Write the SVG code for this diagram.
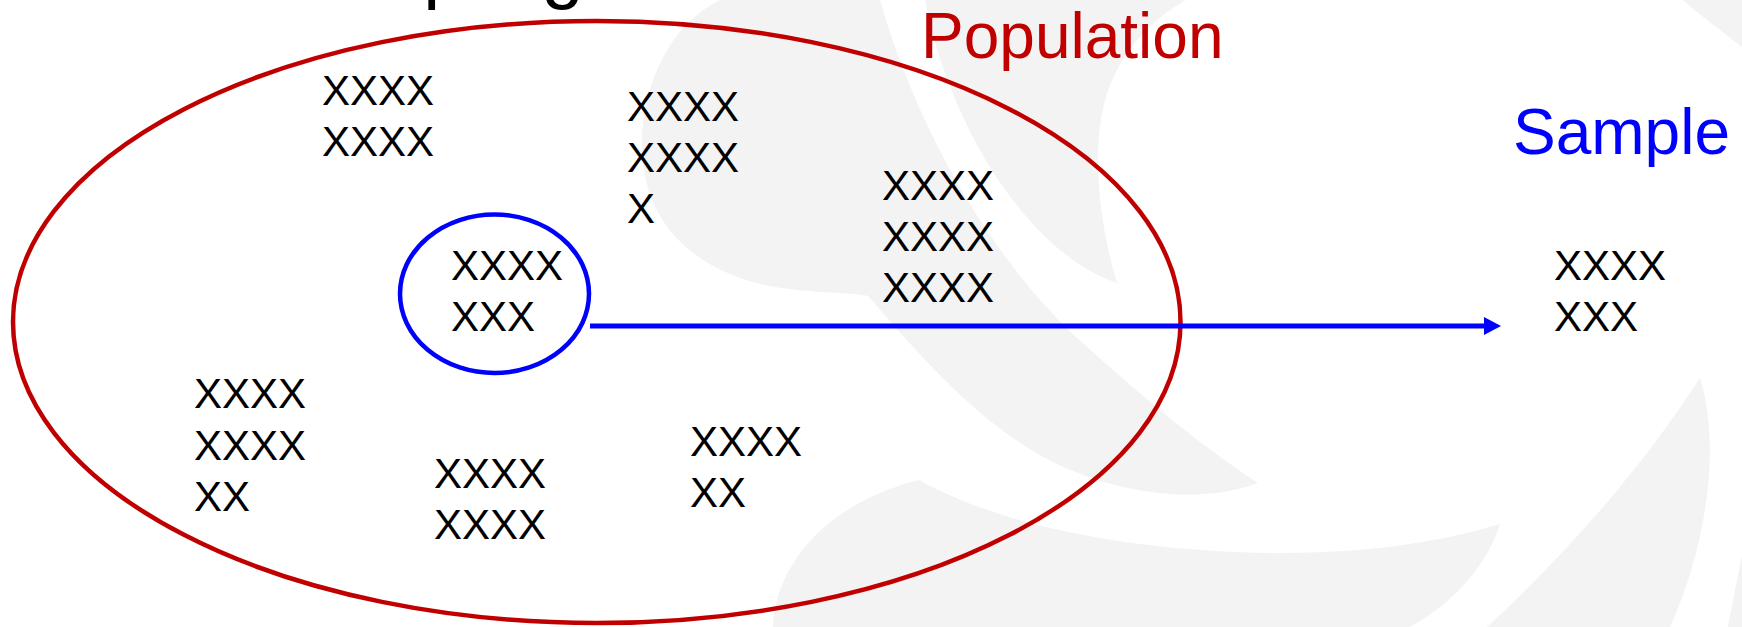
<svg xmlns="http://www.w3.org/2000/svg" width="1742" height="627" viewBox="0 0 1742 627">
  <style>
    .wm { fill: #f3f3f3; stroke: none; }
    .xs { font-family: "Liberation Sans", Arial, sans-serif; font-size: 42px; fill: #000000; }
    .lbl { font-family: "Liberation Sans", Arial, sans-serif; font-size: 64px; }
    .title { font-family: "Liberation Sans", Arial, sans-serif; font-size: 76px; fill: #000000; }
    .pop { fill: none; stroke: #c00000; stroke-width: 4.5; }
    .smp { fill: none; stroke: #0000ff; stroke-width: 4.5; }
    .conn { stroke: #0000ff; stroke-width: 5; fill: none; }
  </style>
  <defs>
    <marker id="arrow" markerUnits="userSpaceOnUse" markerWidth="18" markerHeight="18" refX="2" refY="9" orient="auto">
      <path d="M0,0 L17,9 L0,18 Z" fill="#0000ff"/>
    </marker>
  </defs>

  <rect x="0" y="0" width="1742" height="627" fill="#ffffff"/>

  <g id="watermark">
    <path class="wm" d="M 720,0 C 668,25 640,90 642,150 C 644,220 690,270 770,286 C 815,294 850,292 868,296 C 915,350 975,420 1045,458 C 1115,495 1200,505 1258,483 C 1200,445 1140,395 1085,345 C 1000,270 920,140 880,0 Z"/>
    <path class="wm" d="M 925,0 C 945,110 1020,250 1117,283 C 1098,220 1092,150 1105,100 C 1118,55 1150,20 1186,0 Z"/>
    <path class="wm" d="M 919,480 C 1000,525 1130,552 1280,553 C 1370,553 1440,542 1500,524 C 1485,570 1450,605 1410,627 L 773,627 C 775,570 820,505 919,480 Z"/>
    <path class="wm" d="M 1700,378 C 1640,470 1570,550 1487,627 L 1670,627 C 1705,550 1722,450 1700,378 Z"/>
    <path class="wm" d="M 1742,555 L 1742,627 L 1728,627 C 1733,600 1738,575 1742,555 Z"/>
    <path class="wm" d="M 1683,0 L 1742,0 L 1742,47 C 1720,30 1700,15 1683,0 Z"/>
  </g>

  <text class="title" x="267" y="-6">Sampling</text>

  <g id="population">
    <ellipse class="pop" cx="596.75" cy="322" rx="583.75" ry="301"/>
    <text class="lbl" x="921" y="57.5" fill="#c00000">Population</text>
  </g>

  <g id="group1">
    <text class="xs" x="322" y="105">XXXX</text>
    <text class="xs" x="322" y="156">XXXX</text>
  </g>
  <g id="group2">
    <text class="xs" x="627" y="120.5">XXXX</text>
    <text class="xs" x="627" y="171.5">XXXX</text>
    <text class="xs" x="627" y="222.5">X</text>
  </g>
  <g id="group3">
    <text class="xs" x="882" y="200">XXXX</text>
    <text class="xs" x="882" y="251">XXXX</text>
    <text class="xs" x="882" y="302">XXXX</text>
  </g>
  <g id="sample-circle">
    <ellipse class="smp" cx="494.5" cy="293.75" rx="94.5" ry="79.25"/>
    <text class="xs" x="451" y="280">XXXX</text>
    <text class="xs" x="451" y="331">XXX</text>
  </g>
  <g id="group6">
    <text class="xs" x="194" y="408">XXXX</text>
    <text class="xs" x="194" y="459.5">XXXX</text>
    <text class="xs" x="194" y="511">XX</text>
  </g>
  <g id="group7">
    <text class="xs" x="434" y="488">XXXX</text>
    <text class="xs" x="434" y="539">XXXX</text>
  </g>
  <g id="group8">
    <text class="xs" x="690" y="456">XXXX</text>
    <text class="xs" x="690" y="507">XX</text>
  </g>

  <g id="sample">
    <text class="lbl" x="1513" y="154" fill="#0000ff">Sample</text>
    <text class="xs" x="1554" y="280">XXXX</text>
    <text class="xs" x="1554" y="331">XXX</text>
  </g>

  <g id="connectors">
    <line class="conn" x1="590" y1="326" x2="1486" y2="326" marker-end="url(#arrow)"/>
  </g>
</svg>
